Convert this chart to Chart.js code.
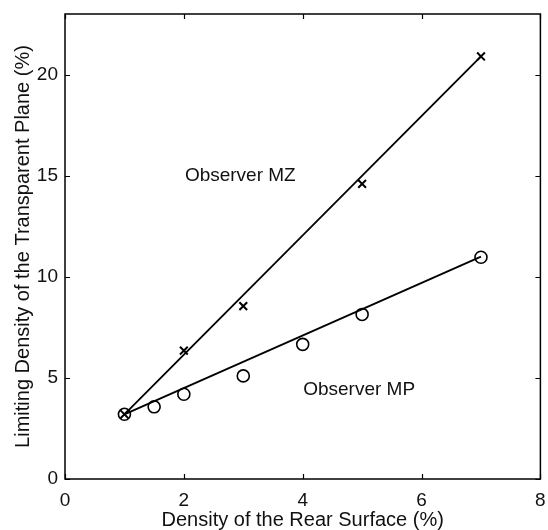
<!DOCTYPE html>
<html>
<head>
<meta charset="utf-8">
<script src="https://cdn.jsdelivr.net/npm/chart.js@4.4.1/dist/chart.umd.min.js"></script>
<style>
  html, body { margin: 0; padding: 0; background: #fff; }
  #wrap { width: 548px; height: 530px; position: relative; }
</style>
</head>
<body>
<div id="wrap"><canvas id="c" width="548" height="530"></canvas></div>
<script>
// ---- data ----
const mzX = [1, 2, 3, 5, 7];
const mzY = [3.2, 6.35, 8.55, 14.6, 20.9];
const mpX = [1, 1.5, 2, 3, 4, 5, 7];
const mpY = [3.2, 3.57, 4.19, 5.1, 6.66, 8.14, 10.97];
// fitted lines (end points)
const mzFitX = [1, 7];
const mzFitY = [3.2, 20.9];
const mpFitX = [1, 7];
const mpFitY = [3.2, 11.0];
// axis ticks
const xTicks = [0, 2, 4, 6, 8];
const yTicks = [0, 5, 10, 15, 20];
// labels in the plot
const labelText = ['Observer MZ', 'Observer MP'];
const labelX = [2.95, 4.95];
const labelY = [15.0, 4.4];

const pts = (xs, ys) => xs.map((x, i) => ({x: x, y: ys[i]}));
const FONT = 'Liberation Sans, Arial, Helvetica, sans-serif';

const framePlugin = {
  id: 'frame',
  afterDraw(chart) {
    const ctx = chart.ctx, a = chart.chartArea;
    const xs = chart.scales.x, ys = chart.scales.y;
    ctx.save();
    ctx.strokeStyle = '#000';
    ctx.lineWidth = 1.5;
    ctx.strokeRect(a.left, a.top, a.right - a.left, a.bottom - a.top);
    ctx.lineWidth = 1.2;
    const L = 5;
    ctx.beginPath();
    xTicks.forEach(v => {
      const px = Math.round(xs.getPixelForValue(v)) + 0.5;
      ctx.moveTo(px, a.bottom); ctx.lineTo(px, a.bottom - L);
      ctx.moveTo(px, a.top); ctx.lineTo(px, a.top + L);
    });
    yTicks.forEach(v => {
      const py = Math.round(ys.getPixelForValue(v)) + 0.5;
      ctx.moveTo(a.left, py); ctx.lineTo(a.left + L, py);
      ctx.moveTo(a.right, py); ctx.lineTo(a.right - L, py);
    });
    ctx.stroke();
    ctx.fillStyle = '#111';
    ctx.font = '19px ' + FONT;
    ctx.textAlign = 'center';
    ctx.textBaseline = 'middle';
    labelText.forEach((t, i) => {
      ctx.fillText(t, xs.getPixelForValue(labelX[i]), ys.getPixelForValue(labelY[i]));
    });
    ctx.restore();
  }
};

new Chart(document.getElementById('c'), {
  type: 'scatter',
  data: {
    datasets: [
      { label: 'MZ fit', data: pts(mzFitX, mzFitY), showLine: true, borderColor: '#000', borderWidth: 1.8, pointRadius: 0, fill: false },
      { label: 'MP fit', data: pts(mpFitX, mpFitY), showLine: true, borderColor: '#000', borderWidth: 1.8, pointRadius: 0, fill: false },
      { label: 'Observer MZ', data: pts(mzX, mzY), showLine: false, pointStyle: 'crossRot', pointRadius: 5.5, borderColor: '#000', borderWidth: 2, backgroundColor: 'transparent' },
      { label: 'Observer MP', data: pts(mpX, mpY), showLine: false, pointStyle: 'circle', pointRadius: 6, borderColor: '#000', borderWidth: 1.6, backgroundColor: 'transparent' }
    ]
  },
  options: {
    responsive: false,
    animation: false,
    devicePixelRatio: 1,
    layout: { padding: { top: 14, right: 5, left: 0, bottom: 0 } },
    plugins: { legend: { display: false }, tooltip: { enabled: false } },
    scales: {
      x: {
        type: 'linear', min: 0, max: 8,
        afterFit(s) { s.height = 51; s.paddingLeft = 0; s.paddingRight = 0; },
        afterBuildTicks(s) { s.ticks = xTicks.map(v => ({value: v})); },
        grid: { display: false, drawTicks: false },
        border: { display: false },
        ticks: { color: '#111', padding: 10, font: { family: FONT, size: 19 } },
        title: { display: true, text: 'Density of the Rear Surface (%)', color: '#111', font: { family: FONT, size: 20, lineHeight: 1.2 }, padding: { top: 0, bottom: -2 } }
      },
      y: {
        type: 'linear', min: 0, max: 23,
        afterFit(s) { s.width = 65; s.paddingTop = 0; s.paddingBottom = 0; },
        afterBuildTicks(s) { s.ticks = yTicks.map(v => ({value: v})); },
        grid: { display: false, drawTicks: false },
        border: { display: false },
        ticks: { color: '#111', padding: 7, font: { family: FONT, size: 19 } },
        title: { display: true, text: 'Limiting Density of the Transparent Plane (%)', color: '#111', font: { family: FONT, size: 20, lineHeight: 1.2 }, padding: { top: 11, bottom: 0 } }
      }
    }
  },
  plugins: [framePlugin]
});
</script>
</body>
</html>
